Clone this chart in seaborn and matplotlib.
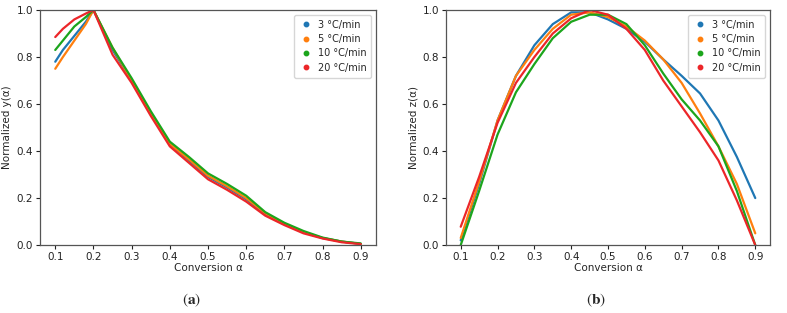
import numpy as np
import pandas as pd
import matplotlib.pyplot as plt
from matplotlib.lines import Line2D
import seaborn as sns

rates = ['3 °C/min', '5 °C/min', '10 °C/min', '20 °C/min']
colors = ['#1f77b4', '#ff7f0e', '#1ca51c', '#ec2629']

# panel (a): normalized y(alpha)
alpha_a = [0.10, 0.12, 0.15, 0.18, 0.20, 0.25, 0.30, 0.35, 0.40, 0.45,
           0.50, 0.55, 0.60, 0.65, 0.70, 0.75, 0.80, 0.85, 0.90]
y_3 = [0.78, 0.83, 0.89, 0.95, 1.0, 0.83, 0.70, 0.56, 0.43, 0.36,
       0.29, 0.245, 0.195, 0.13, 0.09, 0.055, 0.03, 0.015, 0.005]
y_5 = [0.75, 0.80, 0.87, 0.94, 1.0, 0.84, 0.70, 0.56, 0.43, 0.365,
       0.295, 0.25, 0.20, 0.135, 0.09, 0.055, 0.03, 0.015, 0.005]
y_10 = [0.83, 0.87, 0.93, 0.97, 1.0, 0.84, 0.71, 0.57, 0.44, 0.375,
        0.305, 0.26, 0.21, 0.14, 0.095, 0.06, 0.032, 0.015, 0.007]
y_20 = [0.885, 0.92, 0.96, 0.985, 1.0, 0.81, 0.69, 0.55, 0.42, 0.35,
        0.28, 0.235, 0.185, 0.125, 0.085, 0.05, 0.028, 0.012, 0.004]

# panel (b): normalized z(alpha)
alpha_b = [0.10, 0.15, 0.20, 0.25, 0.30, 0.35, 0.40, 0.45, 0.50, 0.55,
           0.60, 0.65, 0.70, 0.75, 0.80, 0.85, 0.90]
z_3 = [0.02, 0.26, 0.53, 0.72, 0.85, 0.94, 0.99, 0.99, 0.96, 0.92,
       0.865, 0.79, 0.72, 0.645, 0.53, 0.375, 0.20]
z_5 = [0.03, 0.27, 0.53, 0.72, 0.83, 0.92, 0.98, 0.99, 0.97, 0.93,
       0.87, 0.79, 0.69, 0.56, 0.42, 0.26, 0.05]
z_10 = [0.0, 0.23, 0.47, 0.65, 0.77, 0.88, 0.95, 0.98, 0.98, 0.94,
        0.85, 0.73, 0.62, 0.53, 0.42, 0.23, 0.0]
z_20 = [0.078, 0.29, 0.52, 0.69, 0.80, 0.90, 0.965, 1.0, 0.98, 0.92,
        0.83, 0.70, 0.59, 0.48, 0.36, 0.19, 0.0]

df_a = pd.concat([pd.DataFrame({'alpha': alpha_a, 'v': v, 'rate': r})
                  for v, r in zip([y_3, y_5, y_10, y_20], rates)])
df_b = pd.concat([pd.DataFrame({'alpha': alpha_b, 'v': v, 'rate': r})
                  for v, r in zip([z_3, z_5, z_10, z_20], rates)])

sns.set_style('ticks')
plt.rcParams['mathtext.fontset'] = 'stix'

fig = plt.figure(figsize=(7.87, 3.13), dpi=100)
ax1 = fig.add_axes([0.0508, 0.217, 0.427, 0.751])
ax2 = fig.add_axes([0.5667, 0.217, 0.4117, 0.751])

pal = dict(zip(rates, colors))
for ax, df, ylab in [(ax1, df_a, 'Normalized y(α)'), (ax2, df_b, 'Normalized z(α)')]:
    sns.lineplot(data=df, x='alpha', y='v', hue='rate', palette=pal, ax=ax,
                 linewidth=1.6, legend=False, sort=False)
    ax.set_ylim(0, 1.0)
    ax.set_xlim(0.06, 0.94)
    ax.set_xticks(np.arange(0.1, 0.91, 0.1))
    ax.set_yticks(np.arange(0, 1.01, 0.2))
    ax.set_xlabel('Conversion α', fontsize=7.5, labelpad=1)
    ax.set_ylabel(ylab, fontsize=7.5, labelpad=3)
    ax.tick_params(labelsize=7.5, length=3, width=0.8, colors='#222222', pad=2)
    for s in ax.spines.values():
        s.set_color('#555555')
        s.set_linewidth(0.9)
    handles = [Line2D([], [], marker='o', linestyle='', color=c, markersize=3.2)
               for c in colors]
    ax.legend(handles, rates, loc='upper right', fontsize=7, frameon=True,
              handletextpad=0.4, borderpad=0.5, labelspacing=0.45, handlelength=1.5)

fig.text(0.244, 0.041, r'$(\mathbf{a})$', ha='center', va='center', fontsize=11)
fig.text(0.757, 0.041, r'$(\mathbf{b})$', ha='center', va='center', fontsize=11)

fig.savefig('out.png', dpi=100)
